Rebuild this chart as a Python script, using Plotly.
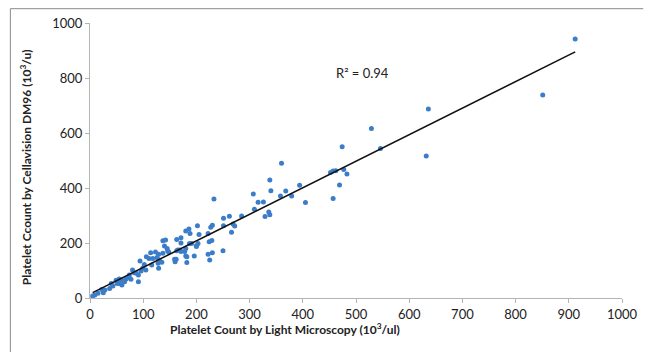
import numpy as np
import plotly.graph_objects as go

# Platelet counts: light microscopy (x) vs Cellavision DM96 (y)
light_microscopy = [
    912, 851, 636, 632, 529, 546, 474, 483, 477, 462, 457, 452, 469, 457, 405, 394, 379, 368, 358, 360,
    338, 340, 336, 338, 329, 326, 316, 307, 309, 285, 272, 269, 266, 262, 251, 251, 250, 233, 230, 227,
    229, 224, 230, 222, 225, 222, 205, 202, 203, 200, 196, 186, 180, 188, 187, 171, 180, 169, 178, 163,
    182, 180, 160, 159, 171, 163, 148, 145, 142, 140, 137, 123, 126, 118, 114, 130, 128, 135, 111, 106,
    94, 102, 105, 91, 96, 91, 80, 87, 74, 68, 73, 60, 55, 55, 49, 51, 60, 40, 43, 37,
    28, 22, 15, 9, 5, 25, 77, 65, 83, 99, 116, 137, 146, 129, 129, 162, 165, 171, 182, 191,
    200,
]
cellavision = [
    942, 738, 687, 516, 616, 544, 550, 451, 467, 463, 462, 456, 411, 362, 347, 410, 371, 389, 371, 490,
    429, 390, 313, 303, 296, 349, 348, 378, 323, 298, 262, 269, 239, 297, 290, 263, 172, 360, 265, 257,
    209, 205, 165, 159, 138, 235, 231, 263, 198, 190, 153, 251, 244, 235, 198, 200, 180, 175, 169, 172,
    129, 153, 132, 141, 219, 213, 167, 180, 211, 189, 163, 167, 147, 144, 165, 138, 126, 130, 144, 150,
    135, 122, 102, 84, 98, 59, 102, 90, 84, 69, 75, 65, 69, 53, 65, 53, 47, 53, 44, 35,
    29, 31, 17, 11, 7, 19, 68, 59, 92, 108, 120, 208, 171, 159, 108, 141, 175, 169, 150, 198,
    187,
]
x_ticks = [0, 100, 200, 300, 400, 500, 600, 700, 800, 900, 1000]
y_ticks = [0, 200, 400, 600, 800, 1000]
r2_label = "R² = 0.94"

x = np.array(light_microscopy, dtype=float)
y = np.array(cellavision, dtype=float)
slope, intercept = np.polyfit(x, y, 1)
trend_x = np.array([x.min(), x.max()])
trend_y = slope * trend_x + intercept

FONT = "Lato, 'Open Sans', sans-serif"
AXIS_GREY = "#b4b4b4"

fig = go.Figure()
fig.add_trace(go.Scatter(
    x=light_microscopy, y=cellavision, mode="markers",
    marker=dict(color="#3b7dc8", size=5, line=dict(width=0)),
    showlegend=False, hoverinfo="x+y",
))
fig.add_trace(go.Scatter(
    x=trend_x, y=trend_y, mode="lines",
    line=dict(color="#111111", width=1.6),
    showlegend=False, hoverinfo="skip",
))

fig.update_layout(
    width=650, height=352,
    margin=dict(l=90, r=19, t=23, b=54),
    paper_bgcolor="white", plot_bgcolor="white",
    font=dict(family=FONT, size=13, color="#222222"),
    xaxis=dict(
        range=[0, 1000], tickvals=x_ticks, ticks="outside", ticklen=4,
        tickcolor=AXIS_GREY, showline=True, linecolor=AXIS_GREY, linewidth=1,
        showgrid=False, zeroline=False, tickfont=dict(size=13, family=FONT, color="#222222"),
    ),
    yaxis=dict(
        range=[0, 1000], tickvals=y_ticks, ticks="outside", ticklen=4,
        tickcolor=AXIS_GREY, showline=True, linecolor=AXIS_GREY, linewidth=1,
        showgrid=False, zeroline=False, tickfont=dict(size=13, family=FONT, color="#222222"),
    ),
    annotations=[
        dict(text="<b>Platelet Count by Light Microscopy (10<sup>3</sup>/ul)</b>",
             xref="paper", yref="paper", x=0.366, y=-0.112, showarrow=False,
             xanchor="center", yanchor="middle", font=dict(size=12, family=FONT, color="#222222")),
        dict(text="<b>Platelet Ccount by Cellavision DM96 (10<sup>3</sup>/u)</b>",
             xref="paper", yref="paper", x=-0.120, y=0.476, showarrow=False, textangle=-90,
             xanchor="center", yanchor="middle", font=dict(size=12, family=FONT, color="#222222")),
        dict(text=r2_label, xref="x", yref="y", x=458, y=819, showarrow=False,
             xanchor="left", yanchor="middle", font=dict(size=13, family=FONT, color="#222222")),
    ],
    shapes=[
        dict(type="line", xref="paper", yref="paper", x0=-0.1497, x1=1.04, y0=1.052, y1=1.052,
             line=dict(color="#8a8a8a", width=1)),
        dict(type="line", xref="paper", yref="paper", x0=-0.1497, x1=-0.1497, y0=1.052, y1=-0.21,
             line=dict(color="#8a8a8a", width=1)),
    ],
)

fig.write_html("out.html")
